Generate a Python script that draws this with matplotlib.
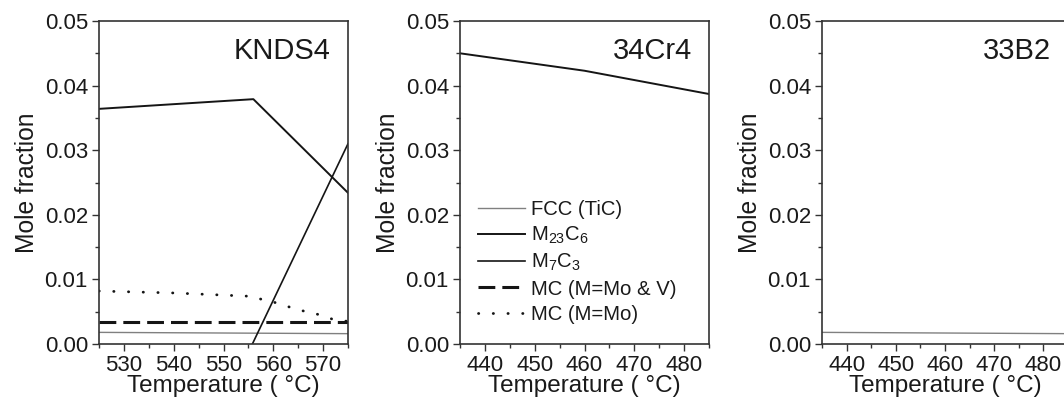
import numpy as np
import matplotlib
matplotlib.use("Agg")
import matplotlib.pyplot as plt
from matplotlib.ticker import MultipleLocator

plt.rcParams['font.family'] = ['Liberation Sans', 'DejaVu Sans']
plt.rcParams['mathtext.fontset'] = 'custom'
plt.rcParams['mathtext.rm'] = 'Liberation Sans'
plt.rcParams['mathtext.it'] = 'Liberation Sans'

# KNDS4
t_knds = [525, 556, 575]
m23_knds = [0.0364, 0.0379, 0.0234]
t_m7_knds = [555.8, 575]
m7_knds = [0.0, 0.0310]
t_mo_knds = [525, 540, 555, 560, 565, 570, 572, 575]
mo_knds = [0.0082, 0.0079, 0.0074, 0.0065, 0.0053, 0.0044, 0.0038, 0.0035]
t_mov_knds = [525, 575]
mov_knds = [0.0034, 0.0034]
t_fcc_knds = [525, 575]
fcc_knds = [0.0018, 0.0016]

# 34Cr4
t_cr = [435, 460, 485]
m23_cr = [0.0450, 0.0423, 0.0387]

# 33B2
t_b = [435, 485]
fcc_b = [0.0018, 0.0016]

nomes = ['KNDS4', '34Cr4', '33B2']
xlims = [(525, 575), (435, 485), (435, 485)]

W, H = 1064, 403
fig = plt.figure(figsize=(W / 100, H / 100), dpi=100)

# posições em pixels (esquerda, largura)
posicoes = [(99, 249), (460, 249), (822, 246)]
topo, base = 21, 344

estilo_fcc = dict(color='#808080', lw=1.0)
estilo_m23 = dict(color='#151515', lw=1.4)
estilo_m7 = dict(color='#151515', lw=1.2)
estilo_mov = dict(color='#151515', lw=2.2, linestyle=(0, (5.5, 2.3)))
estilo_mo = dict(color='#151515', lw=2.0, linestyle=(0, (0.1, 5.2)), dash_capstyle='round')

axes = []
for (esq, larg), nome, xl in zip(posicoes, nomes, xlims):
    ax = fig.add_axes([esq / W, (H - base) / H, larg / W, (base - topo) / H])
    ax.set_xlim(*xl)
    ax.set_ylim(0, 0.05)
    ax.xaxis.set_major_locator(MultipleLocator(10))
    ax.xaxis.set_minor_locator(MultipleLocator(5))
    ax.yaxis.set_major_locator(MultipleLocator(0.01))
    ax.yaxis.set_minor_locator(MultipleLocator(0.005))
    ax.yaxis.set_major_formatter(plt.FuncFormatter(lambda v, p: f'{v:.2f}'))
    ax.tick_params(which='major', direction='out', length=5, width=1, labelsize=16,
                   pad=3, colors='#333333', labelcolor='#1a1a1a')
    ax.tick_params(which='minor', direction='out', length=3, width=1, colors='#333333')
    ax.tick_params(axis='x', which='major', pad=3)
    for s in ax.spines.values():
        s.set_color('#333333')
        s.set_linewidth(1.2)
    ax.set_xlabel('Temperature ( °C)', fontsize=17.5, color='#1a1a1a', labelpad=-1)
    ax.set_ylabel('Mole fraction', fontsize=17.7, color='#1a1a1a', labelpad=4)
    axes.append(ax)

ax1, ax2, ax3 = axes

# rótulos dentro dos painéis (posição em pixels a partir da borda direita)
for ax, nome, (esq, larg) in zip(axes, nomes, posicoes):
    direita = min(esq + larg, 1072)
    ax.text((direita - 17 - esq) / larg, 0.95, nome, transform=ax.transAxes,
            ha='right', va='top', fontsize=21, color='#1a1a1a')

# KNDS4
l_fcc, = ax1.plot(t_fcc_knds, fcc_knds, label='FCC (TiC)', **estilo_fcc)
l_m23, = ax1.plot(t_knds, m23_knds, label=r'$\mathregular{M_{23}C_6}$', **estilo_m23)
l_m7, = ax1.plot(t_m7_knds, m7_knds, label=r'$\mathregular{M_7C_3}$', **estilo_m7)
l_mov, = ax1.plot(t_mov_knds, mov_knds, label='MC (M=Mo & V)', **estilo_mov)
l_mo, = ax1.plot(t_mo_knds, mo_knds, label='MC (M=Mo)', **estilo_mo)

# 34Cr4
ax2.plot(t_cr, m23_cr, **estilo_m23)
ax2.legend(handles=[l_fcc, l_m23, l_m7, l_mov, l_mo], loc='lower left',
           bbox_to_anchor=(0.04, 0.038), frameon=False, fontsize=14.6,
           handlelength=2.3, handletextpad=0.3, labelspacing=0.3,
           borderaxespad=0, labelcolor='#1a1a1a')

# 33B2
ax3.plot(t_b, fcc_b, **estilo_fcc)

fig.savefig('out.png', dpi=100)
